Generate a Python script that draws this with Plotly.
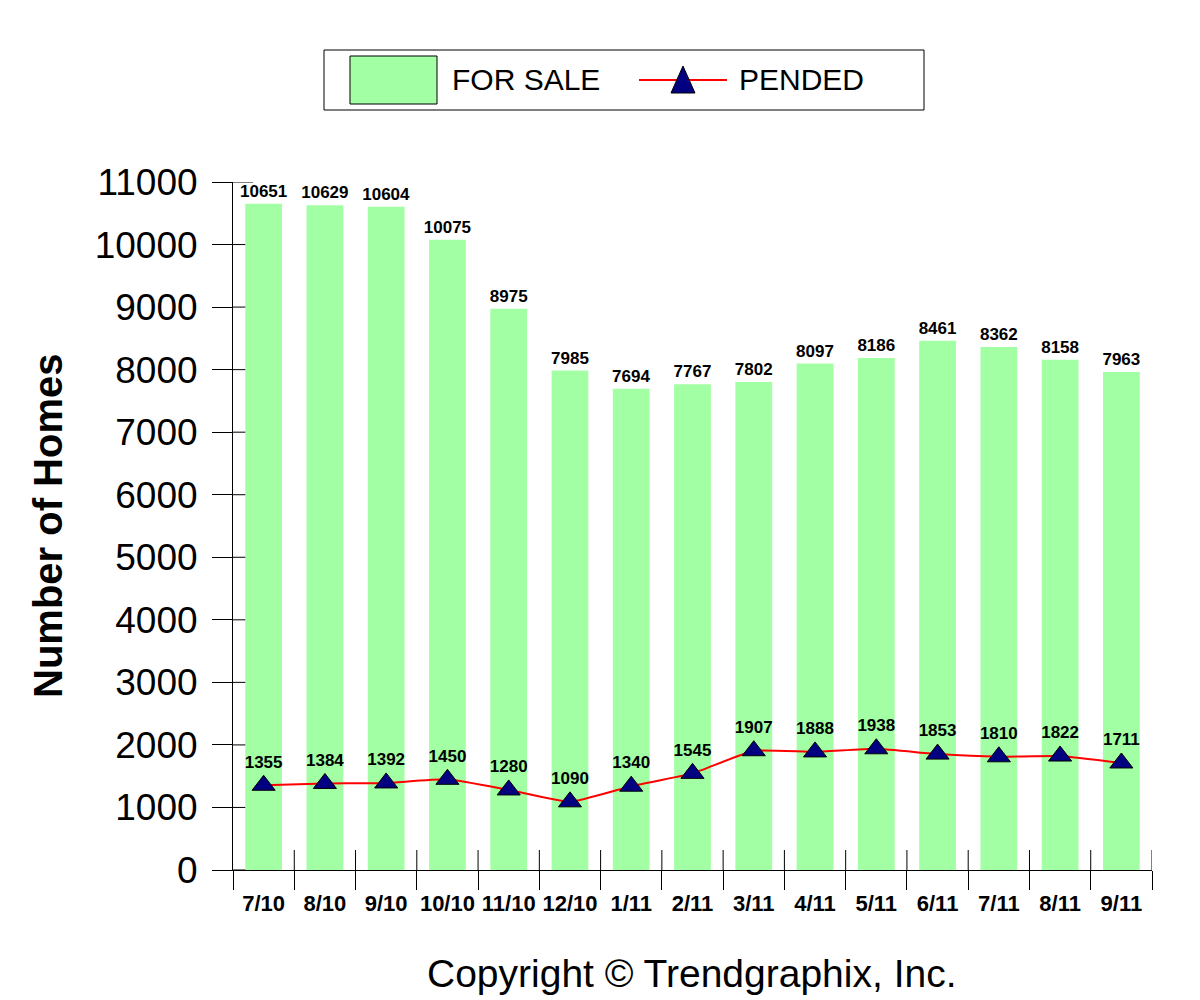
import plotly.graph_objects as go

months = ["7/10", "8/10", "9/10", "10/10", "11/10", "12/10", "1/11", "2/11",
          "3/11", "4/11", "5/11", "6/11", "7/11", "8/11", "9/11"]
for_sale = [10651, 10629, 10604, 10075, 8975, 7985, 7694, 7767, 7802, 8097,
            8186, 8461, 8362, 8158, 7963]
pended = [1355, 1384, 1392, 1450, 1280, 1090, 1340, 1545, 1907, 1888, 1938,
          1853, 1810, 1822, 1711]
y_ticks = list(range(0, 11001, 1000))
y_tick_text = [str(v) for v in y_ticks]

FONT = "Arial, Liberation Sans, sans-serif"
GREEN = "#A3FFA3"

fig = go.Figure()
fig.add_trace(go.Bar(
    x=months, y=for_sale, name="FOR SALE", marker=dict(color=GREEN, line=dict(width=0)),
    width=0.6, text=for_sale, texttemplate="<b>%{text}</b>", textposition="outside",
    constraintext="none",
    textfont=dict(family=FONT, size=17, color="black"), cliponaxis=False,
    showlegend=False,
))
fig.add_trace(go.Scatter(
    x=months, y=pended, name="PENDED", mode="lines+markers+text",
    line=dict(color="red", width=2, shape="spline", smoothing=0.4),
    marker=dict(symbol="triangle-up", size=20, color="#000080",
                line=dict(color="black", width=1)),
    text=pended, texttemplate="<b>%{text}</b>", textposition="top center",
    textfont=dict(family=FONT, size=17, color="black"), cliponaxis=False,
    showlegend=False,
))

shapes = []
# inner parts of y ticks
for v in y_ticks:
    shapes.append(dict(type="line", xref="x domain", yref="y", x0=0, x1=20 / 919,
                       y0=v, y1=v, line=dict(color="black", width=1), layer="below"))
# inner parts of x ticks at category boundaries
for i in range(len(months)):
    shapes.append(dict(type="line", xref="x", yref="y domain", x0=i + 0.5, x1=i + 0.5,
                       y0=0, y1=20 / 688, line=dict(color="black", width=1), layer="below"))

# custom legend (paper coords of a 1200x1000 page with plot domain 233..1152 / 182..870)
W, H = 919, 688
def px(x):
    return (x - 233) / W
def py(y):
    return (870 - y) / H

shapes.append(dict(type="rect", xref="paper", yref="paper", x0=px(324), x1=px(924),
                   y0=py(110), y1=py(50), line=dict(color="black", width=1),
                   fillcolor="white"))
shapes.append(dict(type="rect", xref="paper", yref="paper", x0=px(350), x1=px(437),
                   y0=py(104), y1=py(56), line=dict(color="black", width=1),
                   fillcolor=GREEN))
shapes.append(dict(type="line", xref="paper", yref="paper", x0=px(639), x1=px(727),
                   y0=py(80), y1=py(80), line=dict(color="red", width=2)))
tri = "M {:.5f} {:.5f} L {:.5f} {:.5f} L {:.5f} {:.5f} Z".format(
    px(671), py(93), px(695), py(93), px(683), py(66))
shapes.append(dict(type="path", xref="paper", yref="paper", path=tri,
                   fillcolor="#000080", line=dict(color="black", width=1)))

annotations = [
    dict(text="FOR SALE", xref="paper", yref="paper", x=px(450), y=py(80),
         xanchor="left", yanchor="middle", showarrow=False,
         font=dict(family=FONT, size=30, color="black")),
    dict(text="PENDED", xref="paper", yref="paper", x=px(737), y=py(80),
         xanchor="left", yanchor="middle", showarrow=False,
         font=dict(family=FONT, size=30, color="black")),
    dict(text="Copyright © Trendgraphix, Inc.", xref="paper", yref="paper",
         x=px(692), y=py(973), xanchor="center", yanchor="middle", showarrow=False,
         font=dict(family=FONT, size=39, color="black")),
    dict(text="<b>Number of Homes</b>", xref="paper", yref="paper",
         x=px(48), y=py(526), xanchor="center", yanchor="middle", showarrow=False,
         textangle=-90, font=dict(family=FONT, size=40, color="black")),
]

fig.update_layout(
    width=1200, height=1000,
    margin=dict(l=233, r=48, t=182, b=130, autoexpand=False),
    paper_bgcolor="white", plot_bgcolor="white",
    showlegend=False, bargap=0.4,
    shapes=shapes, annotations=annotations,
    font=dict(family=FONT, color="black"),
    xaxis=dict(
        type="category", showline=True, linecolor="black", linewidth=1,
        ticks="outside", ticklen=19, tickcolor="black", tickwidth=1,
        tickson="boundaries", showgrid=False, zeroline=False, tickangle=0,
        tickfont=dict(family=FONT, size=22, color="black", weight="bold"),
        ticklabelstandoff=14, range=[-0.5, 14.5],
    ),
    yaxis=dict(
        range=[0, 11000], tickvals=y_ticks, ticktext=y_tick_text, showline=True,
        linecolor="black", linewidth=1, ticks="outside", ticklen=20,
        tickcolor="black", tickwidth=1, showgrid=False, zeroline=False,
        tickfont=dict(family=FONT, size=37, color="black"), ticklabelstandoff=7,
    ),
)

fig.write_html("out.html")
